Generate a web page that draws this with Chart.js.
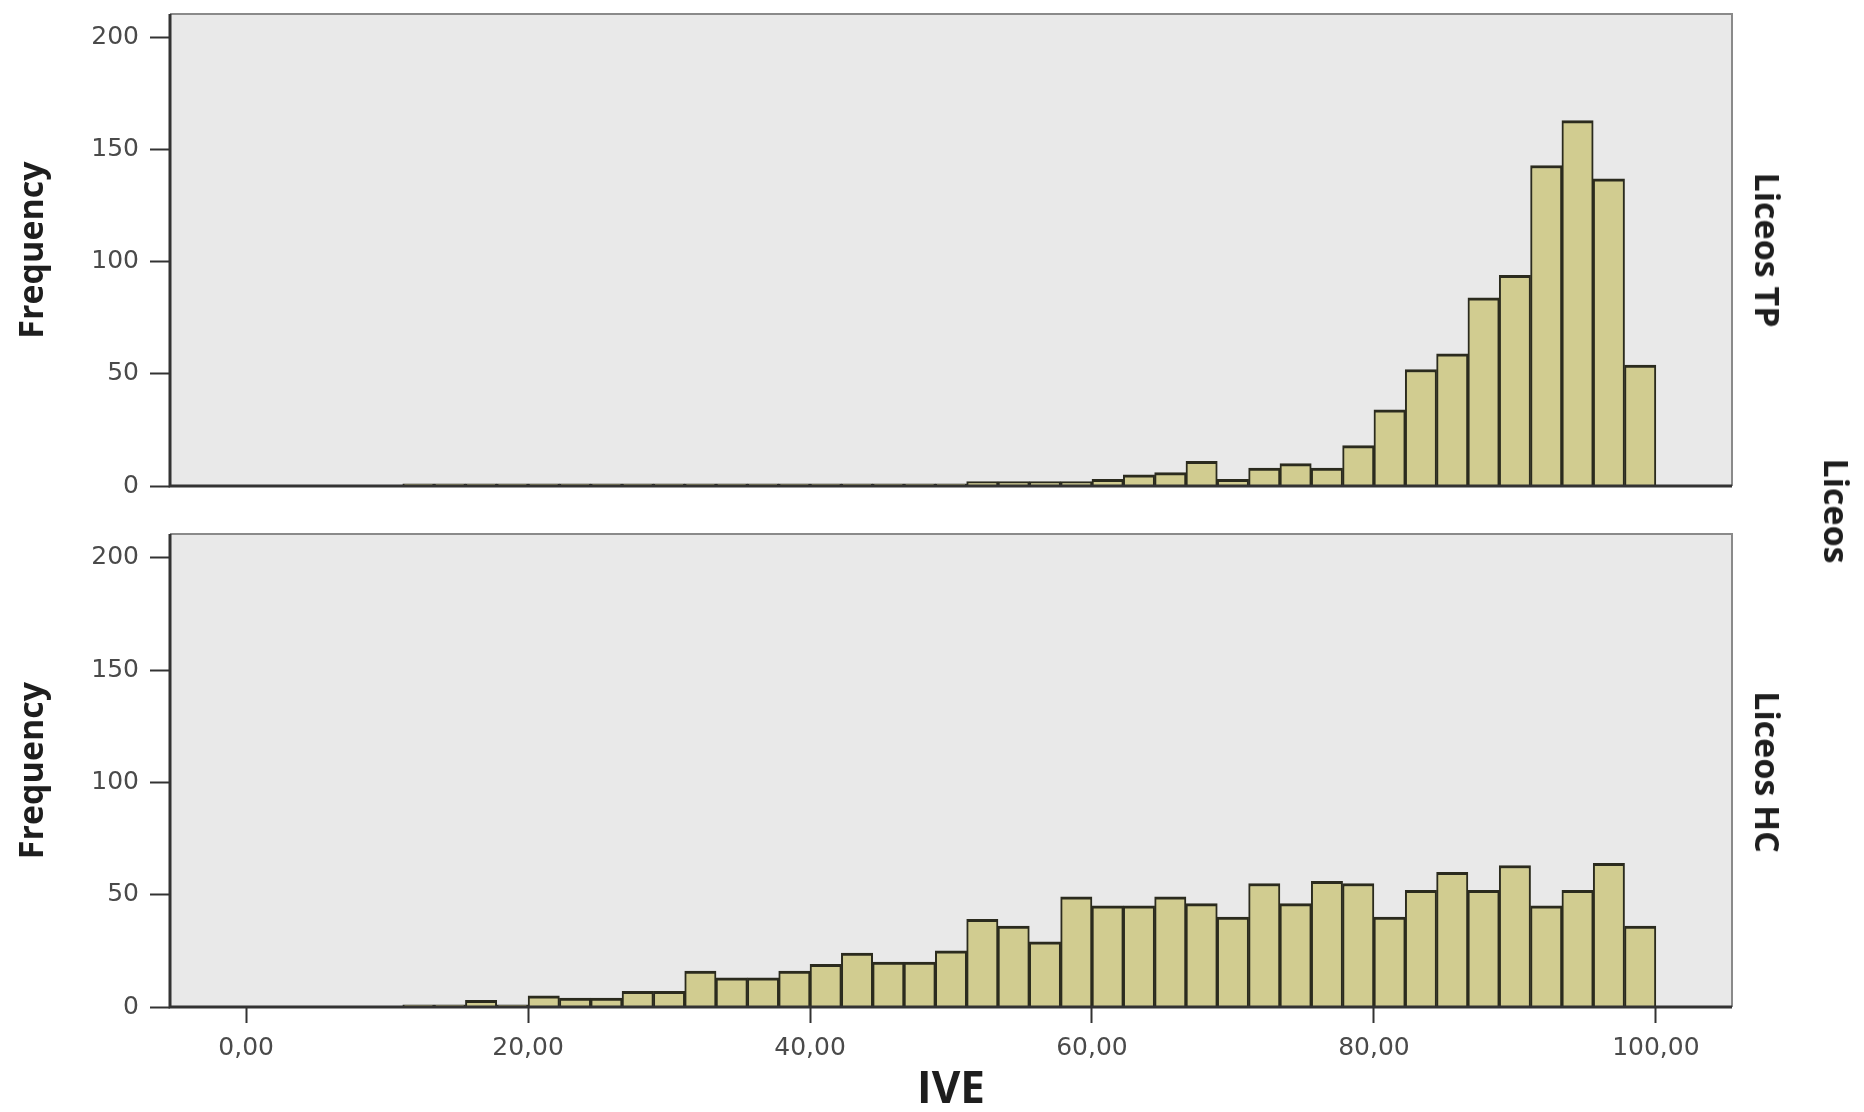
<!DOCTYPE html>
<html><head><meta charset="utf-8">
<script src="https://cdn.jsdelivr.net/npm/chart.js@4.4.0/dist/chart.umd.min.js"></script>
<style>
html,body{margin:0;padding:0;background:#fff;}
#wrap{position:relative;width:1864px;height:1112px;overflow:hidden;background:#fff;}
.cv{position:absolute;left:0;width:1864px;}
#c1wrap{top:0;height:520px;}
#c2wrap{top:520px;height:592px;}
.lab{position:absolute;font-family:"Open Sans",sans-serif;font-weight:700;font-size:34px;color:#1e1e1e;white-space:nowrap;transform:translate(-50%,-50%) rotate(90deg);line-height:1;}
</style></head><body>
<div id="wrap">
 <div class="cv" id="c1wrap"><canvas id="c1"></canvas></div>
 <div class="cv" id="c2wrap"><canvas id="c2"></canvas></div>
 <div class="lab" id="lab1" style="left:1768px;top:250px"></div>
 <div class="lab" id="lab2" style="left:1768px;top:772px"></div>
 <div class="lab" id="lab3" style="left:1837px;top:511px"></div>
</div>
<script>
// ---- data ----
const binWidth = 100 / 45;
const tpCounts = [0,0,0,0,0, 1,1,1,1,1, 1,1,1,1,1, 1,1,1,1,1, 1,1,1,2,2, 2,2,3,5,6, 11,3,8,10,8, 18,34,52,59,84, 94,143,163,137,54];
const hcCounts = [0,0,0,0,0, 1,1,3,1,5, 4,4,7,7,16, 13,13,16,19,24, 20,20,25,39,36, 29,49,45,45,49, 46,40,55,46,56, 55,40,52,60,52, 63,45,52,64,36];
const yTicks = [0, 50, 100, 150, 200];
const xTicks = [0, 20, 40, 60, 80, 100];
const xTickLabels = ['0,00', '20,00', '40,00', '60,00', '80,00', '100,00'];
const panelNames = ['Liceos TP', 'Liceos HC'];
const rowTitle = 'Liceos';
const xTitle = 'IVE';
const yTitle = 'Frequency';
const xMin = -5.4, xMax = 105.4, yMax = 210.6;

document.getElementById('lab1').textContent = panelNames[0];
document.getElementById('lab2').textContent = panelNames[1];
document.getElementById('lab3').textContent = rowTitle;

const framePlugin = {
  id: 'frame',
  beforeDatasetsDraw(chart) {
    const {ctx, chartArea: a} = chart;
    ctx.save();
    ctx.fillStyle = '#e9e9e9';
    ctx.fillRect(a.left, a.top, a.right - a.left, a.bottom - a.top);
    ctx.restore();
  },
  afterDatasetsDraw(chart) {
    const {ctx, chartArea: a} = chart;
    ctx.save();
    ctx.lineWidth = 2;
    ctx.strokeStyle = '#8a8a8a';
    ctx.beginPath();
    ctx.moveTo(a.left, a.top); ctx.lineTo(a.right, a.top); ctx.lineTo(a.right, a.bottom);
    ctx.stroke();
    ctx.lineWidth = 3;
    ctx.strokeStyle = '#333';
    ctx.beginPath();
    ctx.moveTo(a.left, a.top); ctx.lineTo(a.left, a.bottom); ctx.lineTo(a.right, a.bottom);
    ctx.stroke();
    ctx.restore();
  }
};

function makeChart(id, counts, showX) {
  const pts = counts.map((c, i) => ({x: (i + 0.5) * binWidth, y: c}));
  return new Chart(document.getElementById(id), {
    type: 'bar',
    data: {datasets: [{
      data: pts,
      backgroundColor: '#d1cc90',
      borderColor: '#2b2b1e',
      borderWidth: {top: 3, left: 2, right: 2, bottom: 0},
      borderSkipped: false,
      categoryPercentage: 1.0,
      barPercentage: 1.0
    }]},
    options: {
      responsive: true,
      maintainAspectRatio: false,
      animation: false,
      devicePixelRatio: 1,
      layout: {padding: {left: 0, right: 132, top: 14, bottom: showX ? 0 : 34}},
      plugins: {legend: {display: false}, tooltip: {enabled: false}},
      scales: {
        x: {
          type: 'linear',
          display: showX,
          offset: false,
          min: xMin, max: xMax,
          afterBuildTicks: (s) => { s.ticks = xTicks.map(v => ({value: v})); },
          afterFit: (s) => { if (showX) { s.height = 105; } s.paddingLeft = 0; s.paddingRight = 0; },
          grid: {offset: false, drawOnChartArea: false, drawTicks: true, tickLength: 16, tickColor: '#333', tickWidth: 2},
          border: {display: false},
          ticks: {
            autoSkip: false, maxRotation: 0, padding: 10, color: '#4a4a4a',
            font: {family: 'DejaVu Sans', size: 25},
            callback: (v) => { const i = xTicks.indexOf(v); return i >= 0 ? xTickLabels[i] : ''; }
          },
          title: {display: true, text: xTitle, color: '#1e1e1e',
            font: {family: 'Open Sans', weight: 'bold', size: 44, lineHeight: 1},
            padding: {top: 0, bottom: 0}}
        },
        y: {
          min: 0, max: yMax,
          afterBuildTicks: (s) => { s.ticks = yTicks.map(v => ({value: v})); },
          afterFit: (s) => { s.width = 170; s.paddingTop = 0; s.paddingBottom = 0; },
          grid: {drawOnChartArea: false, drawTicks: true, tickLength: 20, tickColor: '#333', tickWidth: 2},
          border: {display: false},
          ticks: {padding: 11, color: '#4a4a4a', font: {family: 'DejaVu Sans', size: 25}},
          title: {display: true, text: yTitle, color: '#1e1e1e',
            font: {family: 'Open Sans', weight: 'bold', size: 34, lineHeight: 1},
            padding: {top: 16, bottom: 0}}
        }
      }
    },
    plugins: [framePlugin]
  });
}

makeChart('c1', tpCounts, false);
makeChart('c2', hcCounts, true);
</script>
</body></html>
